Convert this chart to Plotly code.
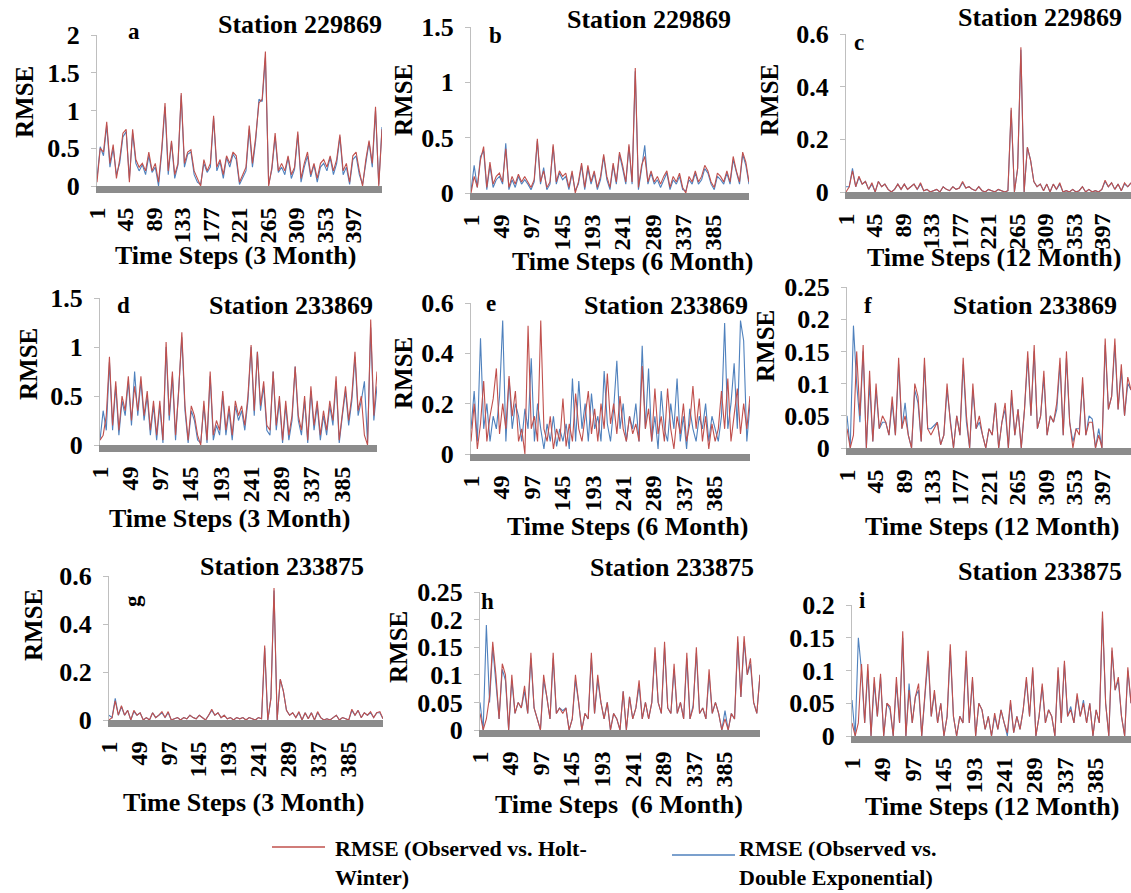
import plotly.graph_objects as go

# ---------------- data (every 5th time step) ----------------
time_steps = list(range(1, 442, 5))

ticks_44 = [1, 45, 89, 133, 177, 221, 265, 309, 353, 397]
ticks_48 = [1, 49, 97, 145, 193, 241, 289, 337, 385]

# a: Station 229869, 3 Month
hw_a = [0.05, 0.5, 0.45, 0.85, 0.3, 0.55, 0.1, 0.35, 0.7, 0.75,
        0.05, 0.75, 0.35, 0.25, 0.3, 0.2, 0.45, 0.2, 0.3, 0.05,
        0.5, 1.1, 0.2, 0.6, 0.15, 0.3, 1.23, 0.3, 0.45, 0.48,
        0.2, 0.1, 0.0, 0.35, 0.2, 0.3, 0.93, 0.25, 0.35, 0.15,
        0.4, 0.3, 0.45, 0.4, 0.05, 0.15, 0.25, 0.8, 0.3, 0.65,
        1.1, 1.15, 1.78, 0.0, 0.25, 0.7, 0.2, 0.3, 0.2, 0.4,
        0.15, 0.25, 0.72, 0.1, 0.3, 0.45, 0.15, 0.3, 0.1, 0.3,
        0.35, 0.25, 0.4, 0.2, 0.35, 0.68, 0.2, 0.3, 0.05, 0.4,
        0.45, 0.2, 0.0, 0.35, 0.6, 0.3, 1.05, 0.0, 0.75]
de_a = [0.1, 0.52, 0.4, 0.8, 0.25, 0.5, 0.15, 0.3, 0.65, 0.72,
        0.1, 0.7, 0.3, 0.2, 0.28, 0.15, 0.4, 0.18, 0.25, 0.0,
        0.45, 1.05, 0.15, 0.58, 0.1, 0.28, 1.2, 0.25, 0.42, 0.45,
        0.15, 0.05, 0.02, 0.3, 0.18, 0.25, 0.9, 0.2, 0.32, 0.1,
        0.38, 0.25, 0.42, 0.35, 0.02, 0.12, 0.2, 0.75, 0.25, 0.6,
        1.15, 1.12, 1.7, 0.02, 0.22, 0.65, 0.18, 0.25, 0.15, 0.38,
        0.1, 0.22, 0.68, 0.05, 0.25, 0.4, 0.12, 0.28, 0.05, 0.25,
        0.3, 0.2, 0.38, 0.15, 0.3, 0.65, 0.15, 0.25, 0.02, 0.35,
        0.4, 0.15, 0.02, 0.3, 0.58, 0.25, 1.0, 0.02, 0.78]

# b: Station 229869, 6 Month
hw_b = [0.0, 0.15, 0.05, 0.3, 0.42, 0.05, 0.28, 0.08, 0.15, 0.18,
        0.1, 0.4, 0.05, 0.15, 0.08, 0.17, 0.1, 0.15, 0.1, 0.05,
        0.12, 0.49, 0.1, 0.2, 0.05, 0.1, 0.44, 0.1, 0.2, 0.15,
        0.18, 0.05, 0.2, 0.0, 0.1, 0.27, 0.05, 0.25, 0.1, 0.2,
        0.05, 0.15, 0.35, 0.15, 0.05, 0.27, 0.1, 0.37, 0.25, 0.1,
        0.44, 0.1, 1.13, 0.05, 0.25, 0.33, 0.1, 0.2, 0.1, 0.15,
        0.08, 0.15, 0.2, 0.05, 0.15, 0.1, 0.18, 0.05, 0.0, 0.15,
        0.1, 0.2, 0.1, 0.15, 0.25, 0.2, 0.1, 0.05, 0.18, 0.15,
        0.1, 0.2, 0.1, 0.33, 0.2, 0.1, 0.37, 0.28, 0.1]
de_b = [0.02, 0.25, 0.05, 0.33, 0.38, 0.03, 0.25, 0.05, 0.12, 0.15,
        0.08, 0.45, 0.03, 0.12, 0.05, 0.15, 0.08, 0.12, 0.08, 0.03,
        0.1, 0.47, 0.08, 0.23, 0.03, 0.08, 0.42, 0.08, 0.18, 0.12,
        0.15, 0.03, 0.18, 0.02, 0.08, 0.25, 0.03, 0.22, 0.08, 0.18,
        0.03, 0.12, 0.33, 0.12, 0.03, 0.25, 0.08, 0.35, 0.22, 0.08,
        0.42, 0.08, 1.1, 0.03, 0.22, 0.43, 0.08, 0.18, 0.08, 0.12,
        0.05, 0.12, 0.18, 0.03, 0.12, 0.08, 0.15, 0.03, 0.02, 0.12,
        0.08, 0.18, 0.08, 0.12, 0.22, 0.18, 0.08, 0.03, 0.15, 0.12,
        0.08, 0.18, 0.08, 0.3, 0.18, 0.08, 0.35, 0.25, 0.08]

# c: Station 229869, 12 Month
hw_c = [0.0, 0.02, 0.08, 0.02, 0.06, 0.03, 0.04, 0.01, 0.035, 0.0,
        0.04, 0.02, 0.03, 0.01, 0.0, 0.01, 0.03, 0.01, 0.03, 0.01,
        0.02, 0.03, 0.01, 0.035, 0.005, 0.01, 0.0, 0.005, 0.01, 0.0,
        0.02, 0.01, 0.005, 0.02, 0.01, 0.015, 0.04, 0.015, 0.02, 0.01,
        0.005, 0.02, 0.005, 0.0, 0.01, 0.005, 0.0, 0.01, 0.005, 0.0,
        0.005, 0.32, 0.0, 0.09, 0.55, 0.0, 0.17, 0.12, 0.04, 0.02,
        0.03, 0.005, 0.03, 0.0, 0.03, 0.01, 0.035, 0.0, 0.005, 0.0,
        0.01, 0.0, 0.005, 0.02, 0.0, 0.01, 0.0, 0.005, 0.0, 0.01,
        0.045, 0.02, 0.035, 0.01, 0.03, 0.005, 0.035, 0.02, 0.035]
de_c = [0.02, 0.02, 0.09, 0.02, 0.055, 0.03, 0.04, 0.01, 0.03, 0.0,
        0.04, 0.02, 0.03, 0.01, 0.0, 0.01, 0.03, 0.01, 0.03, 0.01,
        0.02, 0.03, 0.01, 0.03, 0.005, 0.01, 0.0, 0.005, 0.01, 0.0,
        0.02, 0.01, 0.005, 0.02, 0.01, 0.015, 0.035, 0.015, 0.02, 0.01,
        0.005, 0.02, 0.005, 0.0, 0.01, 0.005, 0.0, 0.01, 0.005, 0.0,
        0.005, 0.31, 0.0, 0.09, 0.54, 0.0, 0.17, 0.12, 0.04, 0.02,
        0.03, 0.005, 0.03, 0.0, 0.03, 0.01, 0.03, 0.0, 0.005, 0.0,
        0.01, 0.0, 0.005, 0.02, 0.0, 0.01, 0.0, 0.005, 0.0, 0.01,
        0.04, 0.02, 0.035, 0.01, 0.03, 0.005, 0.03, 0.02, 0.035]

# d: Station 233869, 3 Month
hw_d = [0.05, 0.1, 0.3, 0.9, 0.2, 0.65, 0.15, 0.5, 0.35, 0.7,
        0.25, 0.6, 0.35, 0.7, 0.3, 0.55, 0.15, 0.45, 0.1, 0.45,
        0.05, 1.05, 0.3, 0.75, 0.1, 0.55, 1.15, 0.4, 0.05, 0.4,
        0.3, 0.1, 0.0, 0.45, 0.05, 0.75, 0.1, 0.25, 0.15, 0.55,
        0.15, 0.4, 0.1, 0.45, 0.3, 0.4, 0.2, 0.5, 1.02, 0.35,
        0.95, 0.4, 0.65, 0.2, 0.15, 0.75, 0.2, 0.5, 0.05, 0.45,
        0.1, 0.3, 0.8, 0.3, 0.15, 0.5, 0.05, 0.6, 0.2, 0.45,
        0.1, 0.35, 0.15, 0.45, 0.25, 0.7, 0.05, 0.35, 0.6, 0.25,
        0.5, 0.95, 0.35, 0.5, 0.1, 0.0, 1.28, 0.3, 0.75]
de_d = [0.05, 0.35, 0.15, 0.85, 0.15, 0.6, 0.1, 0.45, 0.3, 0.65,
        0.2, 0.75, 0.3, 0.65, 0.25, 0.5, 0.1, 0.4, 0.05, 0.4,
        0.02, 1.0, 0.25, 0.7, 0.05, 0.55, 1.1, 0.35, 0.02, 0.35,
        0.25, 0.05, 0.02, 0.4, 0.02, 0.7, 0.05, 0.2, 0.1, 0.5,
        0.1, 0.35, 0.05, 0.4, 0.25, 0.35, 0.15, 0.45, 1.0, 0.3,
        0.95, 0.35, 0.6, 0.15, 0.1, 0.75, 0.15, 0.45, 0.02, 0.4,
        0.05, 0.25, 0.8, 0.25, 0.1, 0.45, 0.02, 0.55, 0.15, 0.4,
        0.05, 0.3, 0.1, 0.4, 0.2, 0.65, 0.02, 0.3, 0.55, 0.2,
        0.45, 0.9, 0.3, 0.45, 0.65, 0.02, 1.2, 0.25, 0.6]

# e: Station 233869, 6 Month
hw_e = [0.05, 0.2, 0.02, 0.12, 0.29, 0.05, 0.15, 0.22, 0.34, 0.08,
        0.2, 0.1, 0.31, 0.15, 0.25, 0.05, 0.1, 0.0, 0.51, 0.1,
        0.15, 0.05, 0.53, 0.1, 0.05, 0.15, 0.02, 0.1, 0.05, 0.22,
        0.03, 0.12, 0.05, 0.24, 0.1, 0.05, 0.15, 0.25, 0.08, 0.18,
        0.05, 0.2, 0.1, 0.32, 0.12, 0.2, 0.08, 0.23, 0.1, 0.05,
        0.15, 0.08, 0.12, 0.05, 0.35, 0.1, 0.18, 0.05, 0.26, 0.08,
        0.15, 0.05, 0.26, 0.1, 0.02, 0.15, 0.08, 0.2, 0.05, 0.12,
        0.27, 0.1, 0.22, 0.05, 0.15, 0.02, 0.12, 0.05, 0.1, 0.25,
        0.1, 0.3, 0.05, 0.15, 0.26, 0.08, 0.2, 0.1, 0.23]
de_e = [0.1, 0.25, 0.05, 0.46, 0.1, 0.2, 0.05, 0.15, 0.1, 0.23,
        0.53, 0.05, 0.3, 0.1, 0.2, 0.15, 0.05, 0.18, 0.1, 0.38,
        0.05, 0.2, 0.1, 0.02, 0.12, 0.05, 0.15, 0.03, 0.1, 0.05,
        0.12, 0.02, 0.3, 0.05, 0.29, 0.1, 0.2, 0.05, 0.24, 0.1,
        0.15, 0.05, 0.33, 0.12, 0.05, 0.18, 0.37, 0.1, 0.2, 0.05,
        0.15, 0.1, 0.2, 0.05, 0.43, 0.1, 0.34, 0.05, 0.15, 0.02,
        0.25, 0.1, 0.05, 0.2, 0.1, 0.3, 0.05, 0.15, 0.02, 0.18,
        0.1, 0.05, 0.15, 0.1, 0.2, 0.05, 0.15, 0.1, 0.05, 0.15,
        0.52, 0.1, 0.2, 0.36, 0.1, 0.53, 0.45, 0.05, 0.2]

# f: Station 233869, 12 Month
hw_f = [0.03, 0.0, 0.02, 0.15, 0.05, 0.16, 0.0, 0.12, 0.01, 0.1,
        0.03, 0.05, 0.04, 0.02, 0.08, 0.02, 0.14, 0.03, 0.05, 0.02,
        0.0, 0.1, 0.08, 0.01, 0.14, 0.03, 0.02, 0.03, 0.04, 0.005,
        0.02, 0.1, 0.04, 0.0, 0.05, 0.02, 0.14, 0.05, 0.0, 0.1,
        0.03, 0.05, 0.02, 0.0, 0.03, 0.02, 0.07, 0.0, 0.04, 0.07,
        0.0, 0.09, 0.02, 0.06, 0.0, 0.06, 0.15, 0.05, 0.16, 0.03,
        0.05, 0.12, 0.02, 0.05, 0.04, 0.07, 0.14, 0.02, 0.15, 0.04,
        0.0, 0.03, 0.02, 0.11, 0.02, 0.04, 0.04, 0.0, 0.02, 0.0,
        0.17, 0.06, 0.08, 0.17, 0.06, 0.13, 0.05, 0.11, 0.09]
de_f = [0.05, 0.0, 0.19, 0.1, 0.04, 0.15, 0.0, 0.1, 0.01, 0.09,
        0.03, 0.04, 0.04, 0.02, 0.07, 0.02, 0.13, 0.03, 0.07, 0.02,
        0.0, 0.09, 0.07, 0.01, 0.13, 0.03, 0.03, 0.035, 0.04, 0.005,
        0.02, 0.09, 0.04, 0.0, 0.05, 0.02, 0.13, 0.04, 0.0, 0.09,
        0.03, 0.04, 0.02, 0.0, 0.03, 0.02, 0.07, 0.0, 0.04, 0.06,
        0.0, 0.08, 0.02, 0.06, 0.0, 0.06, 0.14, 0.05, 0.15, 0.03,
        0.05, 0.11, 0.02, 0.05, 0.04, 0.06, 0.13, 0.02, 0.14, 0.04,
        0.01, 0.03, 0.03, 0.1, 0.02, 0.05, 0.045, 0.0, 0.03, 0.0,
        0.16, 0.06, 0.08, 0.16, 0.06, 0.12, 0.05, 0.1, 0.09]

# g: Station 233875, 3 Month
hw_g = [0.0, 0.01, 0.08, 0.02, 0.06, 0.02, 0.04, 0.0, 0.04, 0.02,
        0.03, 0.0, 0.01, 0.0, 0.03, 0.01, 0.02, 0.035, 0.01, 0.035,
        0.0, 0.005, 0.01, 0.0, 0.01, 0.005, 0.02, 0.01, 0.005, 0.02,
        0.01, 0.0, 0.02, 0.045, 0.02, 0.03, 0.01, 0.02, 0.005, 0.01,
        0.0, 0.01, 0.005, 0.01, 0.0, 0.01, 0.005, 0.0, 0.01, 0.005,
        0.31, 0.0, 0.09, 0.55, 0.0, 0.17, 0.12, 0.04, 0.02, 0.03,
        0.01, 0.035, 0.0, 0.03, 0.005, 0.03, 0.0, 0.035, 0.01, 0.0,
        0.005, 0.0, 0.01, 0.02, 0.0, 0.01, 0.005, 0.0, 0.045, 0.02,
        0.04, 0.01, 0.03, 0.02, 0.035, 0.01, 0.03, 0.035, 0.005]
de_g = [0.02, 0.01, 0.09, 0.02, 0.055, 0.02, 0.04, 0.0, 0.035, 0.02,
        0.03, 0.0, 0.01, 0.0, 0.03, 0.01, 0.02, 0.03, 0.01, 0.03,
        0.0, 0.005, 0.01, 0.0, 0.01, 0.005, 0.02, 0.01, 0.005, 0.02,
        0.01, 0.0, 0.02, 0.04, 0.02, 0.03, 0.01, 0.02, 0.005, 0.01,
        0.0, 0.01, 0.005, 0.01, 0.0, 0.01, 0.005, 0.0, 0.01, 0.005,
        0.3, 0.0, 0.09, 0.54, 0.0, 0.17, 0.12, 0.04, 0.02, 0.03,
        0.01, 0.03, 0.0, 0.03, 0.005, 0.03, 0.0, 0.03, 0.01, 0.0,
        0.005, 0.0, 0.01, 0.02, 0.0, 0.01, 0.005, 0.0, 0.04, 0.02,
        0.04, 0.01, 0.03, 0.02, 0.03, 0.01, 0.03, 0.03, 0.005]

# h: Station 233875, 6 Month
hw_h = [0.03, 0.0, 0.02, 0.06, 0.16, 0.1, 0.02, 0.12, 0.1, 0.0,
        0.1, 0.03, 0.05, 0.04, 0.08, 0.03, 0.14, 0.04, 0.02, 0.0,
        0.1, 0.06, 0.02, 0.14, 0.03, 0.04, 0.03, 0.04, 0.0, 0.02,
        0.1, 0.05, 0.0, 0.03, 0.02, 0.14, 0.03, 0.1, 0.05, 0.02,
        0.05, 0.0, 0.03, 0.02, 0.0, 0.07, 0.0, 0.06, 0.02, 0.04,
        0.09, 0.02, 0.05, 0.02, 0.05, 0.15, 0.05, 0.03, 0.16, 0.04,
        0.03, 0.12, 0.03, 0.05, 0.02, 0.14, 0.02, 0.04, 0.15, 0.03,
        0.04, 0.02, 0.11, 0.03, 0.05, 0.03, 0.0, 0.02, 0.0, 0.03,
        0.02, 0.17, 0.06, 0.17, 0.1, 0.13, 0.05, 0.03, 0.1]
de_h = [0.05, 0.0, 0.19, 0.05, 0.15, 0.09, 0.02, 0.11, 0.09, 0.0,
        0.09, 0.03, 0.05, 0.04, 0.07, 0.03, 0.13, 0.04, 0.02, 0.0,
        0.09, 0.06, 0.02, 0.13, 0.03, 0.04, 0.035, 0.04, 0.0, 0.02,
        0.09, 0.05, 0.0, 0.03, 0.02, 0.13, 0.03, 0.09, 0.05, 0.02,
        0.05, 0.0, 0.03, 0.02, 0.0, 0.07, 0.0, 0.06, 0.02, 0.04,
        0.08, 0.02, 0.05, 0.02, 0.05, 0.14, 0.05, 0.03, 0.15, 0.04,
        0.03, 0.11, 0.03, 0.05, 0.02, 0.13, 0.02, 0.045, 0.14, 0.03,
        0.04, 0.02, 0.1, 0.03, 0.05, 0.03, 0.0, 0.035, 0.0, 0.03,
        0.02, 0.16, 0.06, 0.16, 0.1, 0.12, 0.05, 0.03, 0.1]

# i: Station 233875, 12 Month
hw_i = [0.02, 0.0, 0.02, 0.11, 0.02, 0.11, 0.0, 0.09, 0.03, 0.095,
        0.0, 0.05, 0.045, 0.0, 0.09, 0.02, 0.16, 0.0, 0.07, 0.02,
        0.06, 0.08, 0.0, 0.06, 0.13, 0.03, 0.07, 0.02, 0.05, 0.0,
        0.03, 0.14, 0.03, 0.0, 0.03, 0.02, 0.13, 0.02, 0.09, 0.0,
        0.05, 0.04, 0.01, 0.03, 0.0, 0.035, 0.01, 0.04, 0.02, 0.005,
        0.055, 0.005, 0.03, 0.01, 0.04, 0.09, 0.03, 0.105, 0.0, 0.03,
        0.08, 0.02, 0.04, 0.03, 0.0, 0.105, 0.02, 0.115, 0.03, 0.04,
        0.02, 0.065, 0.03, 0.05, 0.02, 0.05, 0.0, 0.04, 0.02, 0.19,
        0.05, 0.0, 0.135, 0.07, 0.09, 0.03, 0.0, 0.105, 0.05]
de_i = [0.055, 0.0, 0.15, 0.1, 0.02, 0.1, 0.0, 0.08, 0.03, 0.09,
        0.0, 0.05, 0.04, 0.0, 0.08, 0.02, 0.15, 0.0, 0.08, 0.02,
        0.06, 0.07, 0.0, 0.055, 0.12, 0.03, 0.065, 0.02, 0.05, 0.0,
        0.03, 0.13, 0.03, 0.0, 0.03, 0.02, 0.12, 0.02, 0.085, 0.0,
        0.05, 0.04, 0.01, 0.03, 0.0, 0.03, 0.01, 0.04, 0.02, 0.0,
        0.05, 0.005, 0.03, 0.01, 0.04, 0.085, 0.03, 0.1, 0.0, 0.03,
        0.075, 0.02, 0.04, 0.03, 0.0, 0.1, 0.02, 0.11, 0.03, 0.045,
        0.02, 0.06, 0.03, 0.055, 0.02, 0.05, 0.0, 0.04, 0.02, 0.18,
        0.05, 0.0, 0.13, 0.07, 0.085, 0.03, 0.0, 0.1, 0.05]

letters = ["a", "b", "c", "d", "e", "f", "g", "h", "i"]
stations = ["Station 229869"] * 3 + ["Station 233869"] * 3 + ["Station 233875"] * 3
x_titles = ["Time Steps (3 Month)", "Time Steps (6 Month)", "Time Steps (12 Month)",
            "Time Steps (3 Month)", "Time Steps (6 Month)", "Time Steps (12 Month)",
            "Time Steps (3 Month)", "Time Steps  (6 Month)", "Time Steps (12 Month)"]
hw_series = [hw_a, hw_b, hw_c, hw_d, hw_e, hw_f, hw_g, hw_h, hw_i]
de_series = [de_a, de_b, de_c, de_d, de_e, de_f, de_g, de_h, de_i]
x_tick_sets = [ticks_44, ticks_48, ticks_44, ticks_48, ticks_48, ticks_44, ticks_48, ticks_48, ticks_48]
y_tick_sets = [[0, 0.5, 1, 1.5, 2], [0, 0.5, 1, 1.5], [0, 0.2, 0.4, 0.6],
               [0, 0.5, 1, 1.5], [0, 0.2, 0.4, 0.6], [0, 0.05, 0.1, 0.15, 0.2, 0.25],
               [0, 0.2, 0.4, 0.6], [0, 0.05, 0.1, 0.15, 0.2, 0.25], [0, 0.05, 0.1, 0.15, 0.2]]
legend_labels = ["RMSE (Observed vs. Holt-<br>Winter)", "RMSE (Observed vs.<br>Double Exponential)"]

# ---------------- layout geometry (pixels in the 1131 x 893 page) ----------------
W, H = 1131, 893
RED = "#C0504D"
BLUE = "#4F81BD"
SERIF = "Liberation Serif, Times New Roman, serif"

# x0 (y-axis), x1 (right end), y_zero, y_top
boxes = [(97, 382, 186, 35), (471, 749, 193, 27), (846, 1131, 192, 34),
         (100, 377, 445, 298), (471, 750, 454, 303), (847, 1131, 448, 287),
         (109, 383, 720, 576), (480, 760, 730, 592), (852, 1131, 736, 605)]
letter_pos = [(134, 31, 0), (495, 35, 0), (859, 42, 0), (123, 305, 0), (491, 303, 0),
              (868, 305, 0), (132, 601, -90), (487, 601, 0), (862, 600, 0)]
station_pos = [(300, 25), (649, 20), (1040, 18), (291, 305), (666, 305), (1035, 305),
               (282, 566), (672, 567), (1040, 571)]
xtitle_pos = [(235, 255), (632, 261), (994, 257), (229, 518), (627, 526), (992, 526),
              (243, 802), (619, 804), (992, 806)]
rmse_pos = [(24, 102), (404, 100), (770, 100), (28, 364), (404, 373), (765, 346),
            (33, 625), (398, 647), None]


def fx(p):
    return p / W


def fy(p):
    return 1 - p / H


def fmt(v):
    return ("%g" % v)


fig = go.Figure()
annotations = []
for k in range(9):
    n = "" if k == 0 else str(k + 1)
    x0, x1, yz, yt = boxes[k]
    yt_vals = y_tick_sets[k]
    ymax = yt_vals[-1]
    fig.add_trace(go.Scatter(x=time_steps, y=de_series[k], mode="lines",
                             line=dict(color=BLUE, width=1.1), xaxis="x" + n, yaxis="y" + n,
                             showlegend=False, hoverinfo="skip"))
    fig.add_trace(go.Scatter(x=time_steps, y=hw_series[k], mode="lines",
                             line=dict(color=RED, width=1.1), xaxis="x" + n, yaxis="y" + n,
                             showlegend=False, hoverinfo="skip"))
    fig.update_layout(**{
        "xaxis" + n: dict(domain=[fx(x0), fx(x1)], range=[1, 441], anchor="y" + n,
                          showline=True, linecolor="#8C8C8C", linewidth=7,
                          tickmode="array", tickvals=x_tick_sets[k],
                          ticktext=[str(t) for t in x_tick_sets[k]],
                          tickangle=-90, ticks="", ticklabelstandoff=5,
                          tickfont=dict(family=SERIF, size=24, color="black", weight="bold"),
                          showgrid=False, zeroline=False, fixedrange=True, automargin=False),
        "yaxis" + n: dict(domain=[fy(yz), fy(yt)], range=[0, ymax], anchor="x" + n,
                          showline=True, linecolor="#BFBFBF", linewidth=1,
                          ticks="outside", ticklen=5, tickcolor="#BFBFBF",
                          tickmode="array", tickvals=yt_vals,
                          ticktext=[fmt(v) for v in yt_vals], ticklabelstandoff=6,
                          tickfont=dict(family=SERIF, size=26, color="black", weight="bold"),
                          showgrid=False, zeroline=False, fixedrange=True, automargin=False),
    })
    lx, ly, la = letter_pos[k]
    annotations.append(dict(text=letters[k], x=fx(lx), y=fy(ly), xref="paper", yref="paper",
                            showarrow=False, textangle=la, xanchor="center", yanchor="middle",
                            font=dict(family=SERIF, size=23, color="black", weight="bold")))
    sx, sy = station_pos[k]
    annotations.append(dict(text=stations[k], x=fx(sx), y=fy(sy), xref="paper", yref="paper",
                            showarrow=False, xanchor="center", yanchor="middle",
                            font=dict(family=SERIF, size=26, color="black", weight="bold")))
    tx, ty = xtitle_pos[k]
    annotations.append(dict(text=x_titles[k], x=fx(tx), y=fy(ty), xref="paper", yref="paper",
                            showarrow=False, xanchor="center", yanchor="middle",
                            font=dict(family=SERIF, size=26, color="black", weight="bold")))
    if rmse_pos[k] is not None:
        rx, ry = rmse_pos[k]
        annotations.append(dict(text="RMSE", x=fx(rx), y=fy(ry), xref="paper", yref="paper",
                                showarrow=False, textangle=-90, xanchor="center", yanchor="middle",
                                font=dict(family=SERIF, size=25, color="black", weight="bold")))

# legend (drawn by hand as in the source figure)
shapes = [dict(type="line", xref="paper", yref="paper", x0=fx(272), x1=fx(325), y0=fy(847), y1=fy(847),
               line=dict(color=RED, width=1.5)),
          dict(type="line", xref="paper", yref="paper", x0=fx(672), x1=fx(735), y0=fy(855), y1=fy(855),
               line=dict(color=BLUE, width=1.5))]
annotations.append(dict(text=legend_labels[0], x=fx(333), y=fy(863), xref="paper", yref="paper",
                        showarrow=False, xanchor="left", yanchor="middle", align="left",
                        font=dict(family=SERIF, size=22, color="black", weight="bold")))
annotations.append(dict(text=legend_labels[1], x=fx(737), y=fy(863), xref="paper", yref="paper",
                        showarrow=False, xanchor="left", yanchor="middle", align="left",
                        font=dict(family=SERIF, size=22, color="black", weight="bold")))

fig.update_layout(template="none", width=W, height=H, margin=dict(l=0, r=0, t=0, b=0, pad=0),
                  autosize=False, paper_bgcolor="white", plot_bgcolor="white",
                  annotations=annotations, shapes=shapes, showlegend=False)
fig.write_html("out.html", config={"displayModeBar": False},
               post_script="document.body.style.margin='0';document.body.style.overflow='hidden';")
